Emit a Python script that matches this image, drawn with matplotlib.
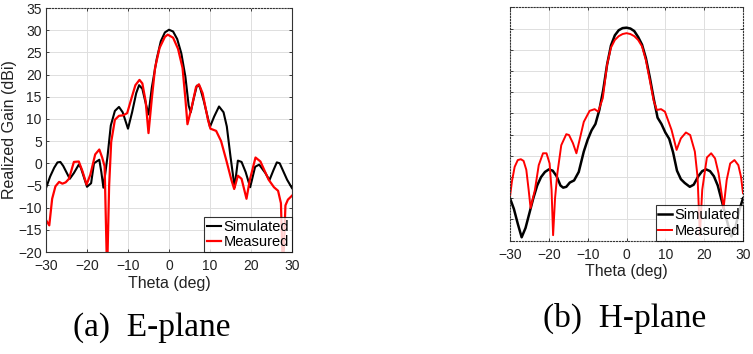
import matplotlib
matplotlib.use("Agg")
import matplotlib.pyplot as plt
import numpy as np

# ---------------- data ----------------
e_sim_theta = [-30, -29, -28, -27.2, -26.5, -25.8, -24.2, -23.2, -22, -21.5, -20, -19, -18.3, -17,
               -16.5, -16, -15, -14.2, -13.2, -12.2, -11.3, -10, -9, -8, -7.3, -6.5, -5.8, -5,
               -4.2, -3, -2, -1, 0, 1, 2, 3, 4, 4.8, 5.3, 6, 6.8, 7.5, 8.5, 10, 11, 12.2, 13.3,
               14.1, 15, 16, 16.8, 17.7, 18.7, 19.8, 21, 22, 23.5, 24.5, 25.5, 26.3, 27, 28.8, 30]
e_sim_gain = [-5.6, -3.0, -1.0, 0.2, 0.3, -0.6, -3.5, -2.2, -0.3, -1.0, -5.3, -4.5, 0.0, 0.8,
              -2.0, -5.5, 1.5, 8.5, 11.8, 12.7, 11.5, 7.8, 11.5, 15.8, 17.6, 16.8, 14.0, 11.0,
              17.0, 23.5, 27.5, 29.5, 30.1, 29.7, 28.0, 24.8, 19.5, 13.0, 11.5, 14.5, 17.5, 17.3,
              14.0, 8.2, 10.5, 12.8, 11.5, 8.3, 1.5, -5.4, 0.6, 0.3, -2.0, -5.4, -0.8, -0.3,
              -2.2, -3.8, -1.5, 0.2, 0.0, -3.7, -5.6]

e_meas_theta = [-30, -29.2, -28.5, -27.7, -26.8, -26, -25.2, -24.4, -23.2, -22, -21.1, -20.1, -19.2,
                -18, -17, -16.3, -15.7, -15.1, -14.6, -14.1, -13.2, -12.2, -11.2, -10.2, -9.2, -8.2,
                -7.2, -6.5, -5.7, -5, -4.2, -3.4, -2.3, -1, -0.3, 1, 2.2, 3.3, 4, 4.5, 5.5, 6.6,
                7.3, 8.2, 9.5, 10.1, 11.5, 12.7, 14, 15.2, 15.9, 16.8, 17.7, 18.9, 19.7, 21.1,
                22.3, 24.3, 25.6, 26.6, 27.3, 27.8, 28.4, 29, 30]
e_meas_gain = [-12.8, -14.0, -8.0, -5.2, -4.2, -4.6, -4.3, -3.5, 0.3, 0.4, -1.8, -4.8, -2.6,
               2.0, 3.1, 1.3, -0.7, -25.0, -5.0, 4.8, 9.8, 10.7, 10.8, 11.3, 14.5, 17.6,
               18.8, 18.0, 14.0, 6.8, 14.5, 21.5, 26.0, 28.5, 29.0, 28.3, 25.8, 21.5, 14.5,
               8.8, 12.5, 17.2, 17.8, 15.8, 9.8, 7.8, 7.3, 5.0, 0.6, -3.7, -5.8, -2.8, -3.5,
               -8.0, -3.8, 1.3, 0.4, -3.7, -5.4, -6.2, -9.0, -25.0, -9.5, -8.2, -7.3]

h_sim_theta = [-30, -29, -28, -27, -26, -25, -24, -23, -22, -21, -20, -19, -18, -17, -16.3, -15.5,
               -14.6, -13.5, -12.3, -11, -10, -9, -8, -7, -6, -5, -4, -3, -2, -1, 0, 1, 2, 3, 4,
               5, 6, 7, 8, 9, 10, 11, 12, 13, 14, 15, 16.3, 17.3, 18.5, 19.5, 20.5, 21.5, 22.5,
               23.5, 24.5, 25.5, 26.5, 27, 28, 29, 30]
h_sim_gain = [-10, -12.5, -16, -19.2, -17, -13.5, -10, -7, -5, -3.8, -3.2, -3.5, -4.8, -7, -7.5,
              -7.3, -6.3, -5.8, -3.8, 1, 3.8, 6, 7.5, 10.8, 15.5, 21.5, 26, 28.4, 29.6, 30.1,
              30.2, 30, 29.4, 28, 26.2, 23, 18.5, 13.5, 9, 7.5, 5.5, 4, 0.8, -3.5, -5.5, -6.4,
              -7.3, -6.8, -4.8, -3.6, -3.2, -3.6, -4.8, -7, -10.5, -14, -17.5, -19, -17, -13, -10]

h_meas_theta = [-30, -29.5, -28.8, -28, -27.2, -26.5, -25.8, -25.2, -24.7, -23.6, -22.6, -21.5,
                -20.6, -19.8, -19.3, -18.9, -18.4, -17.8, -16.8, -15.5, -14.8, -13.8, -12.9,
                -12.1, -11, -9.5, -8.2, -7.3, -6.1, -5, -4, -3, -2, -1, 0, 1, 2, 3, 4, 5, 6, 7,
                7.8, 8.9, 9.9, 11.6, 12.9, 14, 15.3, 16.4, 17.6, 18.3, 18.9, 19.5, 20.7, 21.8,
                22.8, 23.7, 24.5, 25, 25.8, 26.7, 27.8, 28.8, 29.5, 30]
h_meas_gain = [-9.6, -6, -2.6, -1, -0.8, -1.2, -3.3, -8, -12.3, -8.1, -2.2, 0.6, 0.6, -1.8, -8,
               -18.7, -10, -4.1, 2.5, 5.1, 4.9, 3, 0.6, 3.7, 8.0, 10.6, 11, 10.4, 13.6, 21.5,
               25.5, 27.3, 28.2, 28.7, 28.9, 28.7, 28.2, 27.3, 25.8, 22.5, 17.8, 13, 10.8, 11,
               10.4, 6.1, 1.4, 4.1, 5.5, 4.9, 1.0, -5, -18.7, -8, -0.4, 0.6, -0.6, -4.1, -9,
               -12.3, -5.7, -1.8, -1, -2.2, -5, -8.8]

x_ticks = [-30, -20, -10, 0, 10, 20, 30]
y_ticks = [-20, -15, -10, -5, 0, 5, 10, 15, 20, 25, 30, 35]
series_labels = ["Simulated", "Measured"]
x_label = "Theta (deg)"
y_label = "Realized Gain (dBi)"
captions = ["(a)  E-plane", "(b)  H-plane"]

# ---------------- figure ----------------
plt.rcParams['font.family'] = ['Liberation Sans', 'DejaVu Sans']
fig = plt.figure(figsize=(7.53, 3.54), dpi=100)

ax1 = fig.add_axes([46/753, 1 - 252/354, 246/753, 244/354])
ax2 = fig.add_axes([510/753, 1 - 240.7/354, 233/753, 233.4/354])

def style(ax, show_ylabels):
    ax.set_xlim(-30, 30)
    ax.set_ylim(-20, 35)
    ax.set_xticks(x_ticks)
    ax.set_yticks(y_ticks)
    ax.grid(True, color='#dedede', linewidth=0.7)
    ax.set_axisbelow(True)
    ax.tick_params(direction='in', length=2.5, width=0.6, labelsize=10, pad=3,
                   top=True, right=True, colors='#222222')
    ax.tick_params(axis='x', pad=5)
    if not show_ylabels:
        ax.tick_params(labelleft=False)
    ax.set_xlabel(x_label, fontsize=11.5, labelpad=2, color='#222222')
    for s in ax.spines.values():
        s.set_linewidth(0.8)
        s.set_color('#333333')

style(ax1, True)
ax1.set_ylabel(y_label, fontsize=11.5, labelpad=1, color='#222222')
ax1.spines['top'].set_linestyle(':')
ax1.plot(e_sim_theta, e_sim_gain, color='black', lw=1.5, label=series_labels[0])
ax1.plot(e_meas_theta, e_meas_gain, color='#ff0000', lw=1.6, label=series_labels[1])
leg1 = ax1.legend(loc='lower right', fontsize=10.5, frameon=True, fancybox=False,
                  edgecolor='black', borderpad=0.2, handlelength=0.9, handletextpad=0.2,
                  labelspacing=0.1, borderaxespad=0.0)
leg1.get_frame().set_linewidth(0.8)

style(ax2, False)
for s in ax2.spines.values():
    s.set_linestyle(':')
ax2.plot(h_sim_theta, h_sim_gain, color='black', lw=1.8, label=series_labels[0])
ax2.plot(h_meas_theta, h_meas_gain, color='#ff0000', lw=1.4, label=series_labels[1])
leg2 = ax2.legend(loc='lower right', fontsize=10.5, frameon=True, fancybox=False,
                  edgecolor='black', borderpad=0.2, handlelength=0.9, handletextpad=0.2,
                  labelspacing=0.1, borderaxespad=0.0)
leg2.get_frame().set_linewidth(0.8)

fig.text(152/753, 1 - 328/354, captions[0], ha='center', va='center', fontsize=24,
         family=['Liberation Serif', 'DejaVu Serif'])
fig.text(625/753, 1 - 318/354, captions[1], ha='center', va='center', fontsize=24,
         family=['Liberation Serif', 'DejaVu Serif'])

fig.savefig('out.png', dpi=100)
